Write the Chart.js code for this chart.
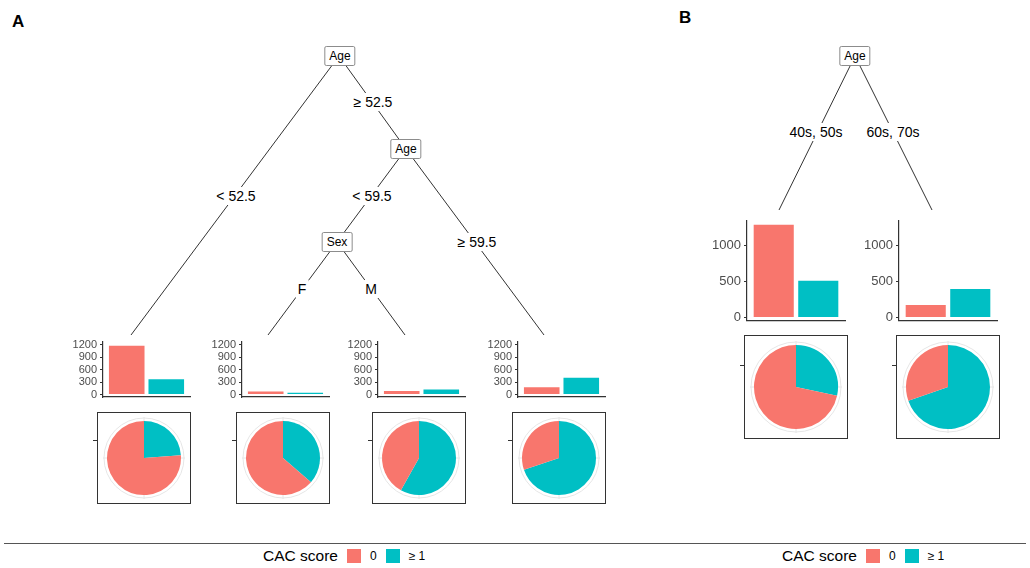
<!DOCTYPE html>
<html>
<head>
<meta charset="utf-8">
<script src="https://cdn.jsdelivr.net/npm/chart.js@4.4.1/dist/chart.umd.min.js"></script>
<style>
  body { margin: 0; background: #fff; font-family: Arial, "Liberation Sans", sans-serif; }
  #page { position: relative; width: 1030px; height: 568px; overflow: hidden; }
  .box { position: absolute; }
  .frame { position: absolute; border: 1px solid #333; box-sizing: border-box; }
  .node { position: absolute; background: #fff; border: 1px solid #8c8c8c; border-radius: 2px;
          font-size: 12px; line-height: 14px; padding: 2px 4px; transform: translate(-50%, -50%); color: #000; }
  .lab { position: absolute; background: #fff; font-size: 14px; line-height: 16px; padding: 1px 2px;
         transform: translate(-50%, -50%); white-space: nowrap; color: #000; }
  .panel { position: absolute; font-weight: bold; font-size: 17px; }
  .legend { position: absolute; top: 547px; height: 18px; display: flex; align-items: center; }
  .legend .t { font-size: 15.5px; margin-right: 9px; }
  .legend .k { width: 14px; height: 14px; margin-right: 9px; }
  .legend .v { font-size: 12px; margin-right: 9px; }
</style>
</head>
<body>
<div id="page">
  <svg id="tree" width="1030" height="568" style="position:absolute;left:0;top:0"></svg>
</div>
<script>
// CAC score classes
const categories = ['0', '≥ 1'];
const colors = ['#F8766D', '#00BFC4'];

// panel A terminal nodes (counts for CAC 0, CAC >= 1)
const leafA1 = [1170, 365];   // Age < 52.5
const leafA2 = [70, 40];      // 52.5 <= Age < 59.5, F
const leafA3 = [85, 118];     // 52.5 <= Age < 59.5, M
const leafA4 = [175, 405];    // Age >= 59.5
// panel B terminal nodes
const leafB1 = [1285, 508];   // 40s, 50s
const leafB2 = [172, 395];    // 60s, 70s

const ticksA = [0, 300, 600, 900, 1200];
const ticksB = [0, 500, 1000];

const page = document.getElementById('page');
const svg = document.getElementById('tree');

function edge(x1, y1, x2, y2) {
  const l = document.createElementNS('http://www.w3.org/2000/svg', 'line');
  l.setAttribute('x1', x1); l.setAttribute('y1', y1);
  l.setAttribute('x2', x2); l.setAttribute('y2', y2);
  l.setAttribute('stroke', '#333'); l.setAttribute('stroke-width', '1');
  svg.appendChild(l);
}
function text(cls, str, x, y) {
  const d = document.createElement('div');
  d.className = cls; d.textContent = str;
  d.style.left = x + 'px'; d.style.top = y + 'px';
  page.appendChild(d);
}

function barChart(vals, ax, top, bottom, w, lim, ticks, fs) {
  const yw = 40, pad = 10;
  const d = document.createElement('div');
  d.className = 'box';
  d.style.left = (ax - yw) + 'px'; d.style.top = (top - pad) + 'px';
  const cw = yw + w + 4, ch = bottom - top + 2 * pad;
  const c = document.createElement('canvas');
  c.width = cw; c.height = ch;
  d.appendChild(c); page.appendChild(d);
  new Chart(c, {
    type: 'bar',
    data: {
      datasets: [{
        data: vals.map((y, i) => ({ x: i + 1, y: y })),
        backgroundColor: colors,
        categoryPercentage: 0.9,
        barPercentage: 1
      }]
    },
    options: {
      responsive: false,
      animation: false,
      events: [],
      layout: { padding: { top: pad, bottom: pad, left: 0, right: 4 } },
      plugins: { legend: { display: false }, tooltip: { enabled: false } },
      scales: {
        x: {
          type: 'linear', min: 0.4, max: 2.6, offset: false,
          afterBuildTicks: s => { s.ticks = [{ value: 1 }, { value: 2 }]; },
          afterFit: s => { s.height = 0; },
          ticks: { display: false },
          grid: { display: false, offset: false },
          border: { display: true, color: '#333', width: 1.2 }
        },
        y: {
          min: lim[0], max: lim[1],
          afterBuildTicks: s => { s.ticks = ticks.map(v => ({ value: v })); },
          afterFit: s => { s.width = yw; },
          ticks: { color: '#4d4d4d', font: { size: fs, family: 'Arial' }, padding: 3,
                   autoSkip: false, callback: v => String(v) },
          grid: { drawOnChartArea: false, drawTicks: true, tickLength: 3, color: '#333' },
          border: { display: true, color: '#333', width: 1.2 }
        }
      }
    }
  });
}

const polarGrid = {
  id: 'polarGrid',
  beforeDatasetsDraw(chart) {
    const a = chart.getDatasetMeta(0).data[0];
    if (!a) return;
    const ctx = chart.ctx, r = a.outerRadius + 3;
    ctx.save();
    ctx.strokeStyle = '#e6e6e6'; ctx.lineWidth = 1;
    ctx.beginPath(); ctx.arc(a.x, a.y, r, 0, Math.PI * 2); ctx.stroke();
    for (let k = 0; k < 4; k++) {
      const t = k * Math.PI / 2;
      ctx.beginPath();
      ctx.moveTo(a.x, a.y);
      ctx.lineTo(a.x + Math.cos(t) * (r + 1), a.y + Math.sin(t) * (r + 1));
      ctx.stroke();
    }
    ctx.restore();
  }
};

function pieChart(vals, left, top, w, h, r, tickY) {
  const d = document.createElement('div');
  d.className = 'frame';
  d.style.left = left + 'px'; d.style.top = top + 'px';
  d.style.width = w + 'px'; d.style.height = h + 'px';
  const c = document.createElement('canvas');
  c.width = w - 2; c.height = h - 2;
  d.appendChild(c); page.appendChild(d);
  const t = document.createElement('div');
  t.style.cssText = 'position:absolute;height:1px;width:4px;background:#333;left:' + (left - 4) + 'px;top:' + tickY + 'px';
  page.appendChild(t);
  new Chart(c, {
    type: 'pie',
    data: {
      labels: [categories[1], categories[0]],
      datasets: [{
        data: [vals[1], vals[0]],
        backgroundColor: [colors[1], colors[0]],
        borderWidth: 0,
        radius: r
      }]
    },
    options: {
      responsive: false,
      animation: false,
      events: [],
      rotation: 0,
      plugins: { legend: { display: false }, tooltip: { enabled: false } }
    },
    plugins: [polarGrid]
  });
}

// ---- panel A tree ----
edge(339, 56, 131, 335);
edge(339, 56, 406, 149);
edge(406, 149, 337, 242);
edge(406, 149, 544, 335);
edge(337, 242, 268, 335);
edge(337, 242, 405, 335);
text('lab', '< 52.5', 236, 196);
text('lab', '≥ 52.5', 373, 102);
text('lab', '< 59.5', 372, 196);
text('lab', '≥ 59.5', 477, 242);
text('lab', 'F', 302, 289);
text('lab', 'M', 371, 289);
text('node', 'Age', 340, 56);
text('node', 'Age', 406, 149);
text('node', 'Sex', 337, 242);

// ---- panel B tree ----
edge(855, 56, 779, 210);
edge(855, 56, 932, 210);
text('lab', '40s, 50s', 816, 132);
text('lab', '60s, 70s', 893, 132);
text('node', 'Age', 855, 56);

// ---- panel A terminal plots ----
const axA = [103, 242, 378, 518];
[leafA1, leafA2, leafA3, leafA4].forEach((v, i) => {
  barChart(v, axA[i], 341.5, 397, 87, [-60, 1260], ticksA, 11);
  pieChart(v, axA[i] - 6, 412, 94, 92, 37, 440);
});

// ---- panel B terminal plots ----
const axB = [747, 899];
[leafB1, leafB2].forEach((v, i) => {
  barChart(v, axB[i], 220, 321, 98, [-37, 1339], ticksB, 13);
  pieChart(v, axB[i] - 3, 335, 104, 104, 42, 365);
});

// ---- panel letters, rule, legends ----
const la = document.createElement('div'); la.className = 'panel'; la.textContent = 'A';
la.style.left = '12px'; la.style.top = '12px'; page.appendChild(la);
const lb = document.createElement('div'); lb.className = 'panel'; lb.textContent = 'B';
lb.style.left = '679px'; lb.style.top = '8px'; page.appendChild(lb);
const rule = document.createElement('div');
rule.style.cssText = 'position:absolute;left:4px;width:1022px;top:543px;height:1px;background:#555';
page.appendChild(rule);

function legend(x) {
  const d = document.createElement('div');
  d.className = 'legend'; d.style.left = x + 'px';
  let h = '<span class="t">CAC score</span>';
  categories.forEach((c, i) => {
    h += '<span class="k" style="background:' + colors[i] + '"></span><span class="v">' + c + '</span>';
  });
  d.innerHTML = h;
  page.appendChild(d);
}
legend(263);
legend(782);
</script>
</body>
</html>
